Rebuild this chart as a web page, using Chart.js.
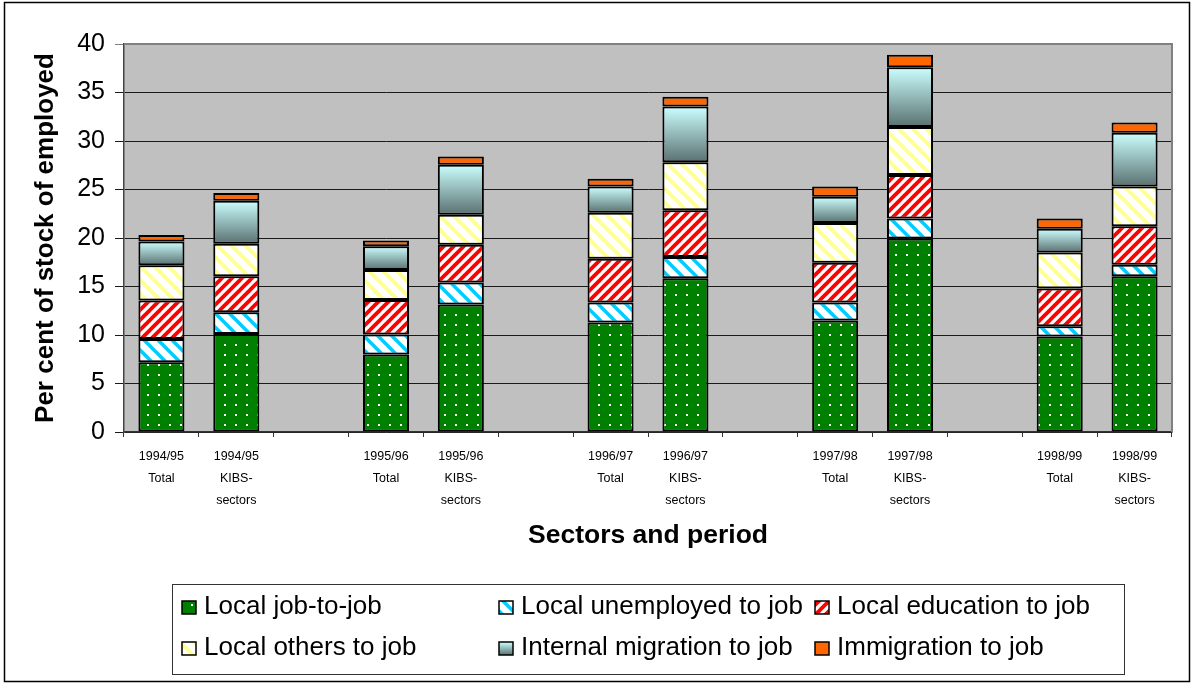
<!DOCTYPE html>
<html>
<head>
<meta charset="utf-8">
<script src="https://cdn.jsdelivr.net/npm/chart.js@4.4.1/dist/chart.umd.min.js"></script>
<style>
  html, body { margin: 0; padding: 0; background: #fff; }
  #wrap { width: 1192px; height: 684px; }
</style>
</head>
<body>
<div id="wrap"><canvas id="chart" width="1192" height="684"></canvas></div>
<script>
// Categories (empty entries are the gaps between periods)
const labels = [
    ['1994/95', 'Total'], ['1994/95', 'KIBS-', 'sectors'], '',
    ['1995/96', 'Total'], ['1995/96', 'KIBS-', 'sectors'], '',
    ['1996/97', 'Total'], ['1996/97', 'KIBS-', 'sectors'], '',
    ['1997/98', 'Total'], ['1997/98', 'KIBS-', 'sectors'], '',
    ['1998/99', 'Total'], ['1998/99', 'KIBS-', 'sectors']
];

// Series values (per cent of stock of employed)
const jobToJob    = [7.2, 10.1, null, 8.0, 13.15, null, 11.3, 15.85, null, 11.5, 19.95, null, 9.85, 16.05];
const unemployed  = [2.4, 2.25, null, 2.05, 2.25, null, 2.05, 2.2, null, 1.85, 2.05, null, 1.05, 1.2];
const education   = [3.95, 3.7, null, 3.55, 3.9, null, 4.5, 4.8, null, 4.1, 4.5, null, 3.9, 3.95];
const others      = [3.65, 3.35, null, 3.1, 3.1, null, 4.75, 4.95, null, 4.1, 4.95, null, 3.7, 4.1];
const internalMig = [2.45, 4.45, null, 2.45, 5.15, null, 2.7, 5.75, null, 2.7, 6.15, null, 2.45, 5.55];
const immigration = [0.65, 0.8, null, 0.6, 0.85, null, 0.8, 1.0, null, 1.05, 1.3, null, 1.05, 1.05];

const seriesNames = [
    'Local job-to-job', 'Local unemployed to job', 'Local education to job',
    'Local others to job', 'Internal migration to job', 'Immigration to job'
];
const yTicks = [0, 5, 10, 15, 20, 25, 30, 35, 40];

const FONT = "'Liberation Sans', Arial, sans-serif";

// Patterns
function makeTile(w, h, draw) {
    const c = document.createElement('canvas');
    c.width = w; c.height = h;
    const g = c.getContext('2d');
    draw(g, w, h);
    return document.getElementById('chart').getContext('2d').createPattern(c, 'repeat');
}

function stripes(color, size, width, dir) {
    return makeTile(size, size, (g, s) => {
        g.fillStyle = '#ffffff';
        g.fillRect(0, 0, s, s);
        g.strokeStyle = color;
        g.lineWidth = width;
        g.lineCap = 'square';
        for (let k = -s; k <= s; k += s) {
            g.beginPath();
            if (dir === '/') {
                g.moveTo(k, s); g.lineTo(k + s, 0);
            } else {
                g.moveTo(k, 0); g.lineTo(k + s, s);
            }
            g.stroke();
        }
    });
}

const greenDots = makeTile(11, 10, (g, w, h) => {
    g.fillStyle = '#008000';
    g.fillRect(0, 0, w, h);
    g.fillStyle = '#ffffff';
    g.fillRect(4, 4, 2, 2);
});
const cyanStripes = stripes('#00ccff', 14, 3.5, '\\');
const redStripes = stripes('#ff0000', 10, 3.8, '/');
const yellowStripes = stripes('#ffff99', 14, 4, '\\');

const allData = [jobToJob, unemployed, education, others, internalMig, immigration];

function tealGradient(context) {
    const chart = context.chart;
    const y = chart.scales && chart.scales.y;
    const i = context.dataIndex;
    if (!y || i == null || allData[4][i] == null) return '#88a8a8';
    let base = 0;
    for (let d = 0; d < 4; d++) base += allData[d][i] || 0;
    const top = y.getPixelForValue(base + allData[4][i]);
    const bot = y.getPixelForValue(base);
    if (!isFinite(top) || !isFinite(bot) || top === bot) return '#88a8a8';
    const gr = chart.ctx.createLinearGradient(0, top, 0, bot);
    gr.addColorStop(0, '#ccffff');
    gr.addColorStop(1, '#5a7070');
    return gr;
}

const fills = [greenDots, cyanStripes, redStripes, yellowStripes, tealGradient, '#ff6600'];

const datasets = allData.map((d, idx) => ({
    label: seriesNames[idx],
    data: d,
    backgroundColor: fills[idx],
    borderColor: '#000000',
    borderWidth: 2,
    borderSkipped: false,
    categoryPercentage: 1.0,
    barPercentage: 0.615
}));

// Plot background, frame, custom legend
const decor = {
    id: 'decor',
    beforeDraw(chart) {
        const { ctx, chartArea: a } = chart;
        ctx.save();
        ctx.fillStyle = '#ffffff';
        ctx.fillRect(0, 0, chart.width, chart.height);
        ctx.fillStyle = '#c0c0c0';
        ctx.fillRect(a.left, a.top, a.right - a.left, a.bottom - a.top);
        ctx.restore();
    },
    afterDraw(chart) {
        const { ctx, chartArea: a } = chart;
        ctx.save();
        // plot border top/right
        ctx.strokeStyle = '#808080';
        ctx.lineWidth = 2;
        ctx.beginPath();
        ctx.moveTo(a.left, a.top);
        ctx.lineTo(a.right, a.top);
        ctx.lineTo(a.right, a.bottom);
        ctx.stroke();
        // outer frame
        ctx.strokeStyle = '#000000';
        ctx.lineWidth = 1.5;
        ctx.strokeRect(4.5, 2.5, 1185, 679);
        // legend box
        ctx.strokeStyle = '#333333';
        ctx.lineWidth = 1;
        ctx.strokeRect(172.5, 584.5, 952, 90);
        const cols = [182, 499, 815];
        const rows = [607, 648];
        ctx.font = '26px ' + FONT;
        ctx.textBaseline = 'middle';
        ctx.textAlign = 'left';
        seriesNames.forEach((name, idx) => {
            const x = cols[idx % 3];
            const yc = rows[Math.floor(idx / 3)];
            const sx = x, sy = yc - 6, sw = 14, sh = 13;
            let f = fills[idx];
            if (idx === 4) {
                f = ctx.createLinearGradient(0, sy, 0, sy + sh);
                f.addColorStop(0, '#ccffff');
                f.addColorStop(1, '#5a7070');
            }
            ctx.fillStyle = f;
            ctx.fillRect(sx, sy, sw, sh);
            ctx.strokeStyle = '#000000';
            ctx.lineWidth = 1.5;
            ctx.strokeRect(sx, sy, sw, sh);
            ctx.fillStyle = '#000000';
            ctx.fillText(name, x + 22, yc);
        });
        ctx.restore();
    }
};

new Chart(document.getElementById('chart'), {
    type: 'bar',
    data: { labels: labels, datasets: datasets },
    plugins: [decor],
    options: {
        responsive: false,
        animation: false,
        layout: { padding: { top: 44, left: 8, right: 20, bottom: 130 } },
        plugins: {
            legend: { display: false },
            tooltip: { enabled: false }
        },
        scales: {
            x: {
                stacked: true,
                afterFit: (s) => { s.height = 122; },
                grid: {
                    drawOnChartArea: false,
                    drawTicks: true,
                    tickLength: 5,
                    color: '#333333',
                    offset: true
                },
                border: { display: true, color: '#333333', width: 1.5 },
                ticks: {
                    color: '#000000',
                    padding: 8,
                    maxRotation: 0,
                    autoSkip: false,
                    font: { family: FONT, size: 12.5, lineHeight: 1.78 }
                },
                title: {
                    display: true,
                    text: 'Sectors and period',
                    color: '#000000',
                    padding: { top: 0, bottom: 2 },
                    font: { family: FONT, size: 26.5, weight: 'bold' }
                }
            },
            y: {
                stacked: true,
                min: 0,
                max: 40,
                afterFit: (s) => { s.width = 116; },
                afterBuildTicks: (s) => { s.ticks = yTicks.map(v => ({ value: v })); },
                grid: {
                    color: (c) => (c.tick && c.tick.value === 40) ? '#808080' : '#1a1a1a',
                    lineWidth: 1,
                    tickLength: 9
                },
                border: { display: true, color: '#444444', width: 1.5 },
                ticks: {
                    color: '#000000',
                    padding: 10,
                    font: { family: FONT, size: 25 }
                },
                title: {
                    display: true,
                    text: 'Per cent of stock of employed',
                    color: '#000000',
                    padding: { top: 22, bottom: 0 },
                    font: { family: FONT, size: 26, weight: 'bold' }
                }
            }
        }
    }
});
</script>
</body>
</html>
